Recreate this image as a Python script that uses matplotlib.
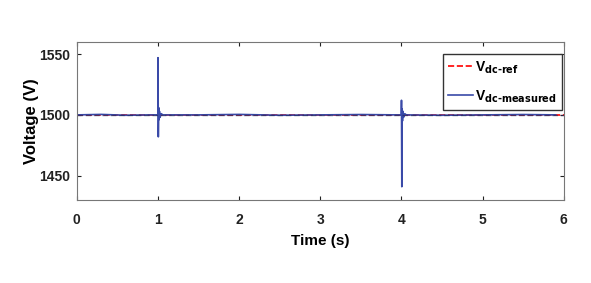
import matplotlib.pyplot as plt

plt.rcParams['font.family'] = ['Liberation Sans', 'DejaVu Sans']
plt.rcParams['font.weight'] = 'bold'
plt.rcParams['mathtext.default'] = 'bf'

# reference voltage
t_ref = [0, 6]
v_ref = [1500, 1500]

# measured dc link voltage (key points)
t_meas = [0, 0.3, 0.6, 0.9, 0.998, 1.0, 1.004, 1.008, 1.012, 1.018, 1.025, 1.04, 1.06,
          1.5, 2.0, 2.5, 3.0, 3.5, 3.95, 3.998, 4.0, 4.004, 4.008, 4.012, 4.018, 4.025,
          4.04, 4.06, 4.5, 5.0, 5.5, 5.9]
v_meas = [1500, 1500.4, 1499.7, 1500, 1500, 1547, 1482, 1506, 1496, 1503, 1498, 1501, 1500,
          1500, 1500.4, 1499.7, 1500, 1500.3, 1500, 1500, 1512, 1441, 1505, 1495, 1503, 1498,
          1501, 1500, 1499.7, 1500, 1500.3, 1500]

fig = plt.figure(figsize=(5.91, 2.83), dpi=100)
ax = fig.add_axes([0.130, 0.293, 0.824, 0.559])

ax.plot(t_ref, v_ref, color='red', linestyle='--', linewidth=1.2, label=r'V$_{dc\text{-}ref}$')
ax.plot(t_meas, v_meas, color='#3a4aa8', linewidth=1.2, label=r'V$_{dc\text{-}measured}$')
ax.plot(t_ref, v_ref, color='#1c2455', linestyle=(0, (4, 2)), linewidth=1.0, alpha=0.6)

ax.set_xlim(0, 6)
ax.set_ylim(1430, 1560)
ax.set_xticks([0, 1, 2, 3, 4, 5, 6])
ax.set_yticks([1450, 1500, 1550])
ax.tick_params(direction='in', top=True, right=True, labelsize=10, length=3, colors='#222222')
ax.tick_params(axis='x', pad=9)
ax.tick_params(axis='y', pad=5)
for s in ax.spines.values():
    s.set_color('#777777')
ax.set_xlabel('Time (s)', fontsize=11, fontweight='bold', labelpad=5)
ax.set_ylabel('Voltage (V)', fontsize=12, fontweight='bold', labelpad=0)

leg = ax.legend(loc='upper right', bbox_to_anchor=(0.997, 0.925), fontsize=10,
                handlelength=1.8, handletextpad=0.15, borderpad=0.4,
                labelspacing=0.9, fancybox=False, framealpha=1, borderaxespad=0)
leg.get_frame().set_edgecolor('#333333')

fig.savefig('out.png', dpi=100)
